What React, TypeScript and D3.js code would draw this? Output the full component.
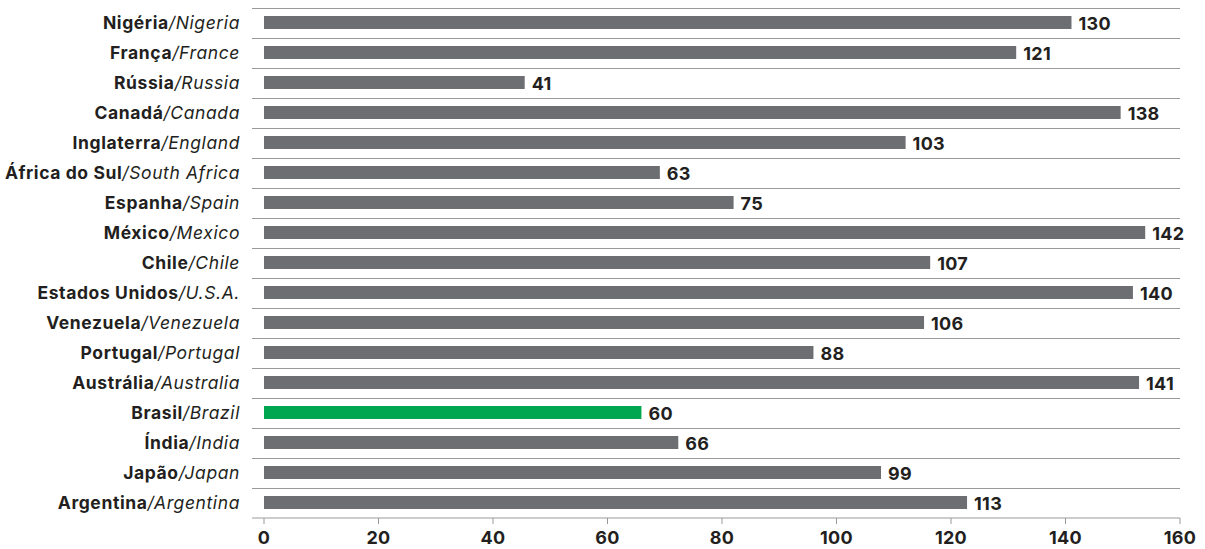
import React from "react";
import * as d3 from "d3";

const namesPt = ["Nigéria","França","Rússia","Canadá","Inglaterra","África do Sul","Espanha","México","Chile","Estados Unidos","Venezuela","Portugal","Austrália","Brasil","Índia","Japão","Argentina"];
const namesEn = ["Nigeria","France","Russia","Canada","England","South Africa","Spain","Mexico","Chile","U.S.A.","Venezuela","Portugal","Australia","Brazil","India","Japan","Argentina"];
const values = [130,121,41,138,103,63,75,142,107,140,106,88,141,60,66,99,113];
const highlight = "Brasil";
const ticks = [0,20,40,60,80,100,120,140,160];

const W = 1205, H = 549;
const FONT = "Inter, 'Liberation Sans', Arial, sans-serif";

export default function App() {
  const x = d3.scaleLinear().domain([0, 160]).range([264, 1180]);
  // bar lengths as drawn in the original (not aligned with the axis)
  const xBar = d3.scaleLinear().domain([0, 160]).range([272.8, 272.8 + 983]);
  const y = d3.scaleBand<string>().domain(namesPt).range([8, 518]);
  const bw = y.bandwidth();
  return (
    <svg width={W} height={H} style={{ position: "absolute", left: 0, top: 0, background: "#fff" }} fontFamily={FONT}>
      {namesPt.map((n, i) => (
        <line key={"g" + i} x1={252} x2={1180} y1={y(n)! + 0.5} y2={y(n)! + 0.5} stroke="#9a9a9a" strokeWidth={1} />
      ))}
      <line x1={252} x2={1180} y1={518} y2={518} stroke="#9a9a9a" strokeWidth={1} />
      {ticks.map((t) => (
        <g key={"t" + t}>
          <line x1={x(t)} x2={x(t)} y1={518} y2={524} stroke="#9a9a9a" strokeWidth={1} />
          <text x={x(t)} y={544} textAnchor="middle" fontSize={18} fontWeight={700} letterSpacing={0.3} fill="#231f20">{t}</text>
        </g>
      ))}
      {namesPt.map((n, i) => {
        const yc = y(n)! + bw / 2;
        const end = xBar(values[i]);
        return (
          <g key={"b" + i}>
            <rect x={264} y={y(n)! + 8} width={end - 264} height={13} fill={n === highlight ? "#00a650" : "#6d6e71"} />
            <text x={end + 7} y={yc + 6.5} fontSize={18} fontWeight={700} letterSpacing={0.3} fill="#231f20">{values[i]}</text>
            <text x={240} y={yc + 5.9} textAnchor="end" fontSize={17.5} letterSpacing={0.6} fill="#231f20">
              <tspan fontWeight={700}>{n}</tspan>
              <tspan fontStyle="italic">/{namesEn[i]}</tspan>
            </text>
          </g>
        );
      })}
    </svg>
  );
}
